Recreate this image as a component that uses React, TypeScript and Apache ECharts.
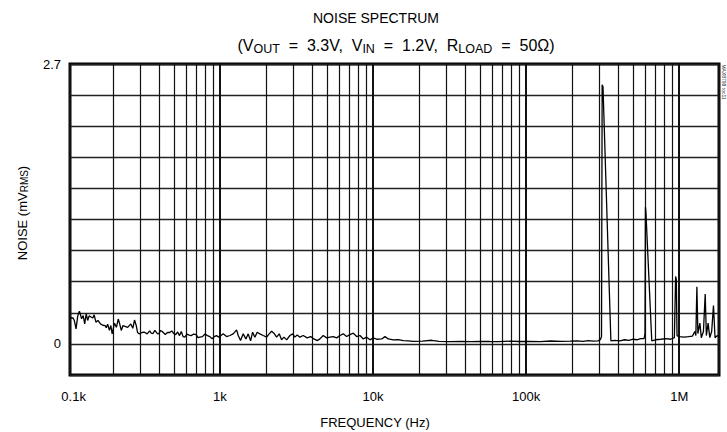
import React, { useEffect, useRef } from "react";
import * as echarts from "echarts";

const FONT = "'Liberation Sans', Arial, sans-serif";

// Frequency (Hz) and noise (mVRMS)
const freqHz: number[] = [
  105, 110, 112, 115, 118, 121, 125, 128, 131, 134, 137, 140, 144, 148, 151, 155, 160, 166, 172, 178,
  181, 185, 190, 194, 198, 205, 211, 217, 221, 227, 233, 240, 250, 262, 270, 277, 284, 290, 297, 310,
  322, 335, 348, 356, 366, 376, 392, 400, 410, 420, 430, 440, 455, 470, 485, 500, 515, 530, 545, 560,
  575, 590, 610, 630, 650, 675, 700, 720, 740, 770, 800, 830, 860, 890, 920, 950, 985,
  1051, 1106, 1163, 1222, 1286, 1318, 1365, 1420, 1479, 1531, 1588, 1636, 1694, 1753, 1825, 1919,
  2020, 2100, 2177, 2254, 2348, 2442, 2530, 2620, 2730, 2868, 2987, 3092, 3200, 3333, 3500, 3720,
  3917, 4115, 4325, 4506, 4732, 4979, 5234, 5502, 5793, 6085, 6397, 6731, 7075, 7437, 7825, 8225,
  8646, 9097, 9556, 10046, 10568,
  11400, 11980, 12590, 13570, 14630, 15780, 17000, 18340, 21000, 24200, 27000, 31850, 38000, 44000,
  50030, 58000, 66000, 78550, 90000, 105000, 123400, 145000, 170000, 193900, 215000, 235000, 255000,
  275000, 295000, 305000,
  311000, 314000, 318000, 358000, 380000, 410000, 440000, 470000, 500000, 530000, 560000, 590000,
  598000, 602000, 606000, 662000, 700000, 760000, 820000, 880000, 930000, 948000, 958000, 968000,
  1000000, 1080000, 1150000, 1220000, 1265000, 1285000, 1305000, 1325000, 1365000, 1395000, 1440000,
  1479000, 1505000, 1545000, 1585000, 1630000, 1675000, 1715000, 1770000, 1820000,
];

const noiseMv: number[] = [
  0.25, 0.25, 0.226, 0.145, 0.27, 0.316, 0.242, 0.274, 0.193, 0.29, 0.226, 0.27, 0.26, 0.25, 0.28, 0.21, 0.226, 0.193, 0.18, 0.177,
  0.155, 0.19, 0.13, 0.177, 0.097, 0.2, 0.16, 0.24, 0.2, 0.13, 0.177, 0.17, 0.16, 0.193, 0.15, 0.23, 0.18, 0.11, 0.097, 0.11,
  0.113, 0.097, 0.125, 0.105, 0.1, 0.13, 0.097, 0.1, 0.13, 0.12, 0.105, 0.09, 0.11, 0.11, 0.125, 0.1, 0.09, 0.115, 0.08, 0.12,
  0.07, 0.065, 0.095, 0.085, 0.08, 0.095, 0.09, 0.06, 0.065, 0.07, 0.095, 0.08, 0.07, 0.05, 0.07, 0.08, 0.065,
  0.097, 0.071, 0.081, 0.097, 0.135, 0.081, 0.032, 0.097, 0.048, 0.097, 0.03, 0.113, 0.065, 0.113, 0.097, 0.081,
  0.065, 0.097, 0.122, 0.103, 0.065, 0.097, 0.039, 0.065, 0.039, 0.081, 0.097, 0.065, 0.087, 0.065, 0.081, 0.058,
  0.071, 0.048, 0.032, 0.048, 0.081, 0.058, 0.065, 0.071, 0.058, 0.081, 0.097, 0.071, 0.09, 0.103, 0.071, 0.081,
  0.048, 0.065, 0.039, 0.058, 0.045,
  0.048, 0.07, 0.048, 0.039, 0.042, 0.032, 0.03, 0.025, 0.026, 0.035, 0.024, 0.022, 0.024, 0.022,
  0.025, 0.023, 0.022, 0.026, 0.023, 0.025, 0.022, 0.028, 0.024, 0.026, 0.03, 0.024, 0.032,
  0.026, 0.03, 0.04,
  0.07, 2.5, 2.48, 0.03, 0.035, 0.03, 0.04, 0.035, 0.045, 0.04, 0.05, 0.05,
  0.1, 1.32, 1.28, 0.03, 0.04, 0.045, 0.05, 0.045, 0.06, 0.65, 0.62, 0.08,
  0.07, 0.065, 0.07, 0.075, 0.12, 0.08, 0.55, 0.1, 0.2, 0.06, 0.12,
  0.48, 0.08, 0.2, 0.06, 0.12, 0.37, 0.06, 0.08, 0.07,
];

const minorGridHz: number[] = [
  200, 300, 400, 500, 600, 700, 800, 900,
  2000, 3000, 4000, 5000, 6000, 7000, 8000, 9000,
  20000, 30000, 40000, 50000, 60000, 70000, 80000, 90000,
  200000, 300000, 400000, 500000, 600000, 700000, 800000, 900000,
];

const xTickLabels: Record<string, string> = {
  "100": "0.1k",
  "1000": "1k",
  "10000": "10k",
  "100000": "100k",
  "1000000": "1M",
};

const X_MIN = 105;
const X_MAX = 1820000;
const Y_MIN = -0.3;
const Y_MAX = 2.7;
const Y_STEP = 0.3;

export default function App() {
  const ref = useRef<HTMLDivElement>(null);

  useEffect(() => {
    if (!ref.current) return;
    const chart = echarts.init(ref.current, null, { renderer: "svg" });
    const data = freqHz.map((f, i) => [f, noiseMv[i]]);

    chart.setOption({
      animation: false,
      backgroundColor: "#fff",
      textStyle: { fontFamily: FONT },
      grid: {
        left: 70,
        right: 8,
        top: 64,
        bottom: 57,
        show: true,
        borderColor: "#000",
        borderWidth: 3,
        backgroundColor: "transparent",
      },
      xAxis: {
        type: "log",
        logBase: 10,
        min: X_MIN,
        max: X_MAX,
        axisLine: { show: false },
        axisTick: { show: false },
        splitLine: { show: true, lineStyle: { color: "#111", width: 2 } },
        axisLabel: {
          margin: 15,
          fontSize: 13,
          color: "#000",
          fontFamily: FONT,
          formatter: (v: number) => {
            if (v < 150) return "  0.1k";
            const key = String(Math.round(v));
            return xTickLabels[key] ?? "";
          },
        },
      },
      yAxis: {
        type: "value",
        min: Y_MIN,
        max: Y_MAX,
        interval: Y_STEP,
        axisLine: { show: false },
        axisTick: { show: false },
        splitLine: { show: true, lineStyle: { color: "#222", width: 1.4 } },
        axisLabel: {
          margin: 9,
          fontSize: 13,
          color: "#000",
          fontFamily: FONT,
          formatter: (v: number) => {
            if (Math.abs(v) < 1e-6) return "0";
            if (Math.abs(v - 2.7) < 1e-6) return "2.7";
            return "";
          },
        },
      },
      graphic: [
        {
          type: "text",
          x: 376,
          y: 18,
          style: {
            text: "NOISE SPECTRUM",
            fontSize: 14,
            fontFamily: FONT,
            fill: "#000",
            align: "center",
            verticalAlign: "middle",
          },
        },
        {
          type: "text",
          x: 396,
          y: 45,
          style: {
            text: "{n|(V}{s|OUT}{n|  =  3.3V,  V}{s|IN}{n|  =  1.2V,  R}{s|LOAD}{n|  =  50Ω)}",
            align: "center",
            verticalAlign: "middle",
            fill: "#000",
            rich: {
              n: { fontSize: 16, fontFamily: FONT, fill: "#000" },
              s: { fontSize: 12.5, fontFamily: FONT, fill: "#000", padding: [7, 0, 0, 0] },
            },
          },
        },
        {
          type: "text",
          x: 22,
          y: 213,
          rotation: Math.PI / 2,
          style: {
            text: "{n|NOISE (mV}{s|RMS}{n|)}",
            align: "center",
            verticalAlign: "middle",
            fill: "#000",
            rich: {
              n: { fontSize: 13, fontFamily: FONT, fill: "#000" },
              s: { fontSize: 10, fontFamily: FONT, fill: "#000", padding: [5, 0, 0, 0] },
            },
          },
        },
        {
          type: "text",
          x: 375,
          y: 422,
          style: {
            text: "FREQUENCY (Hz)",
            align: "center",
            verticalAlign: "middle",
            fontSize: 13,
            fontFamily: FONT,
            fill: "#000",
          },
        },
        {
          type: "text",
          x: 724,
          y: 82,
          rotation: -Math.PI / 2,
          style: {
            text: "MAX8798 toc11",
            align: "center",
            verticalAlign: "middle",
            fontSize: 5,
            fontFamily: FONT,
            fill: "#333",
          },
        },
      ],
      series: [
        {
          type: "line",
          data: [],
          z: 1,
          silent: true,
          markLine: {
            silent: true,
            symbol: ["none", "none"],
            label: { show: false },
            lineStyle: { color: "#111", width: 1.2, type: "solid" },
            data: minorGridHz.map((v) => ({ xAxis: v })),
          },
        },
        {
          type: "line",
          data,
          z: 5,
          showSymbol: false,
          symbol: "none",
          lineStyle: { color: "#000", width: 1.3 },
        },
      ],
    });

    return () => chart.dispose();
  }, []);

  return <div ref={ref} style={{ width: 727, height: 432, position: "absolute", left: 0, top: 0 }} />;
}
